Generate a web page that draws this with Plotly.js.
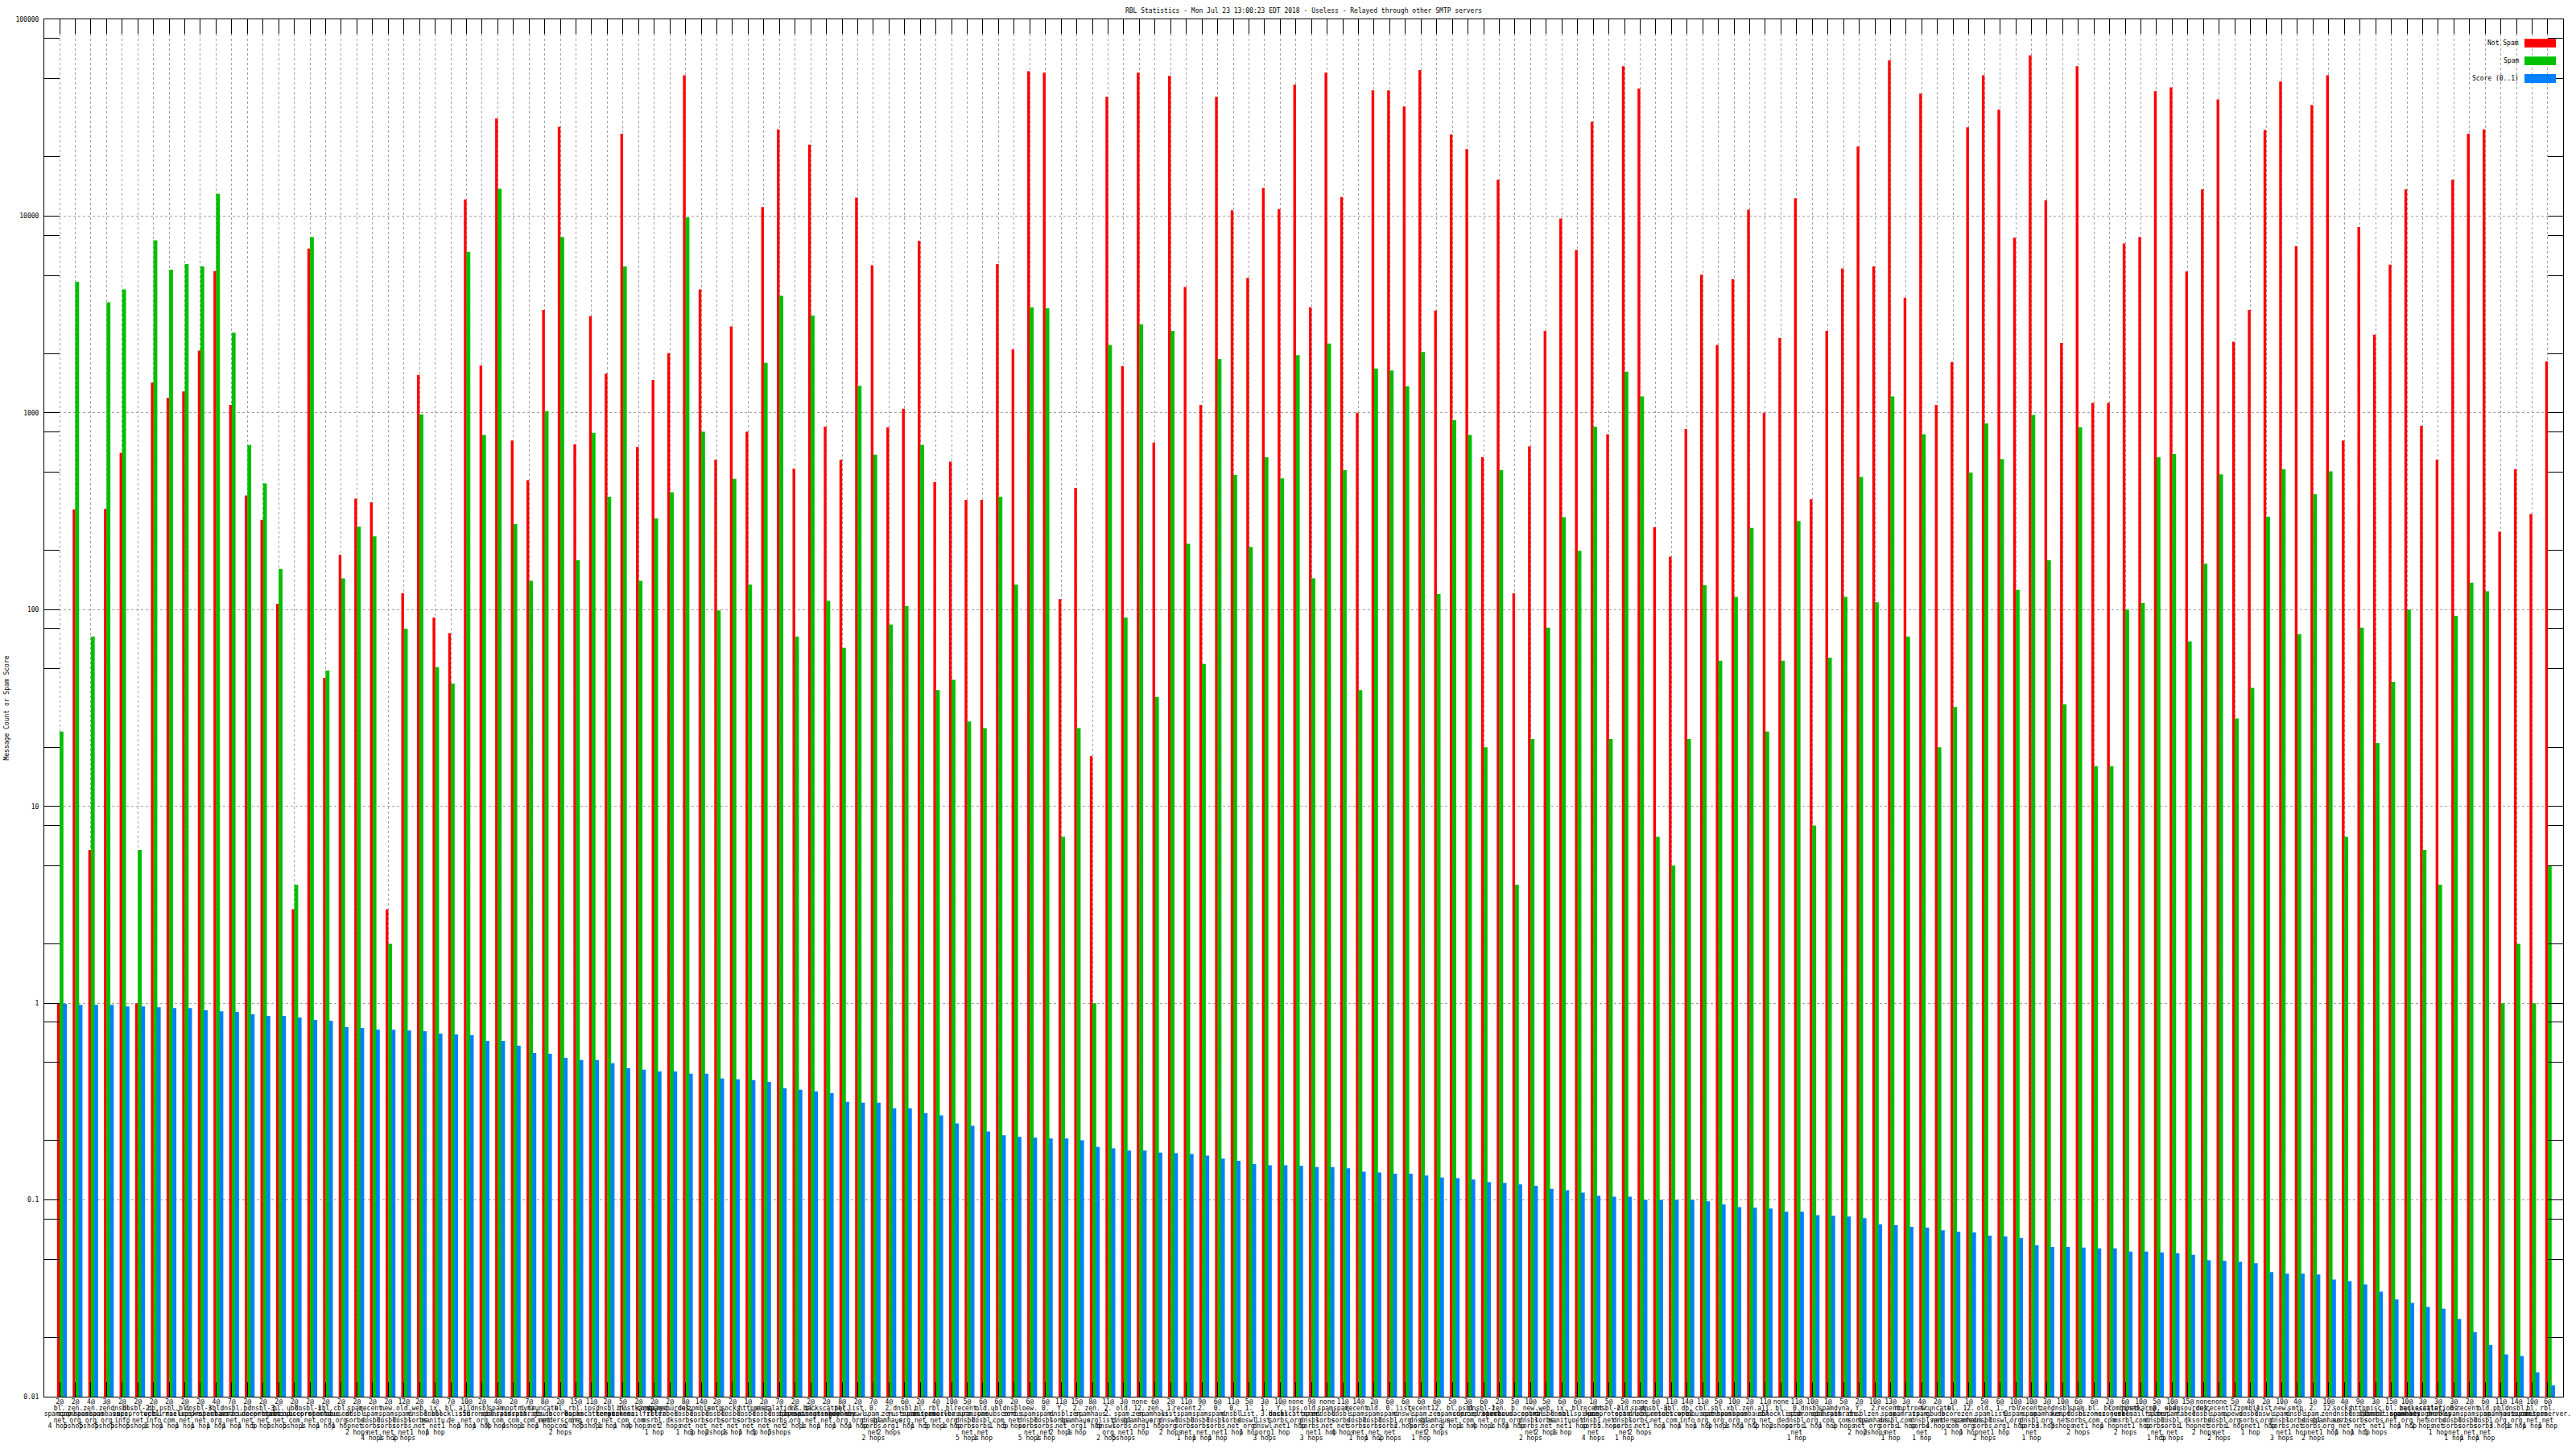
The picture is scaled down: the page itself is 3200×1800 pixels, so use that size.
<!DOCTYPE html>
<html><head><meta charset="utf-8">
<script src="https://cdn.plot.ly/plotly-3.0.1.min.js"></script>
<style>html,body{margin:0;padding:0;background:#fff}</style>
</head><body><div id="chart" style="width:3200px;height:1800px"></div>
<script>
// ---------------- data ----------------
const notSpam = [1,323,6,325,627,1,1426,1191,1285,2070,
5260,1097,380,286,107,3,6835,45,190,366,
351,3,121,1560,91,76,12140,1743,31340,723,
455,3337,28430,691,3098,1583,26180,671,1469,2010,
52010,4240,578,2749,802,11100,27600,520,23070,851,
578,12420,5625,845,1050,7475,445,565,361,361,
5710,2100,54430,53600,113,416,18,40370,1730,53600,
707,51640,4366,1097,40370,10690,4850,13900,10860,46540,
3438,53600,12510,1000,43510,43510,36100,55250,3313,26000,
21890,595,15300,121,676,2611,9710,6730,30190,778,
57800,44480,262,186,827,5030,2214,4777,10770,1000,
2404,12330,364,2611,5420,22550,5546,61800,3846,41900,
1097,1811,28230,52010,34770,7762,65600,12050,2265,57800,
1123,1123,7255,7818,43180,45140,5226,13680,39170,2298,
3337,27400,48290,7040,36640,52010,723,8810,2495,5670,
13680,859,578,15300,26180,27600,249,517,306,1824];

const spam = [24,4640,73,3650,4240,6,7530,5340,5710,5546,
12980,2553,686,438,161,4,7818,49,144,264,
236,2,80,982,51,42,6580,773,13780,272,
140,1019,7818,178,791,375,5546,140,291,395,
9860,802,99,462,134,1797,3935,73,3120,111,
64,1374,613,84,104,686,39,44,27,25,
375,134,3438,3400,7,25,1,2214,91,2812,
36,2611,216,53,1879,483,208,595,465,1965,
144,2249,512,39,1680,1643,1363,2040,120,918,
773,20,512,4,22,81,295,199,851,22,
1619,1210,7,5,22,133,55,116,260,24,
55,282,8,57,116,472,109,1210,73,778,
20,32,497,884,582,126,975,178,33,845,
16,16,100,108,595,618,69,171,487,28,
40,297,517,75,386,505,7,81,21,43,
100,6,4,93,137,124,1,2,1,5];

const score = [0.991,0.981,0.981,0.981,0.963,0.963,0.954,0.945,0.945,0.919,
0.910,0.902,0.877,0.861,0.861,0.845,0.821,0.814,0.755,0.748,
0.734,0.734,0.727,0.720,0.700,0.693,0.687,0.643,0.643,0.608,
0.559,0.553,0.528,0.514,0.514,0.495,0.467,0.459,0.450,0.450,
0.438,0.438,0.414,0.410,0.406,0.398,0.370,0.363,0.356,0.349,
0.315,0.312,0.312,0.292,0.292,0.276,0.269,0.245,0.238,0.223,
0.213,0.209,0.207,0.205,0.205,0.201,0.186,0.183,0.178,0.178,
0.174,0.173,0.171,0.168,0.162,0.158,0.152,0.150,0.150,0.149,
0.147,0.147,0.145,0.139,0.138,0.136,0.136,0.133,0.130,0.129,
0.127,0.123,0.122,0.120,0.118,0.114,0.112,0.109,0.105,0.104,
0.104,0.100,0.100,0.100,0.100,0.0984,0.0947,0.0920,0.0913,0.0904,
0.0871,0.0871,0.0837,0.0830,0.0823,0.0808,0.0750,0.0743,0.0730,0.0723,
0.0702,0.0689,0.0683,0.0658,0.0652,0.0640,0.0588,0.0577,0.0577,0.0572,
0.0567,0.0567,0.0546,0.0546,0.0541,0.0536,0.0526,0.0494,0.0490,0.0485,
0.0476,0.0430,0.0422,0.0422,0.0418,0.0394,0.0386,0.0372,0.0342,0.0312,
0.0300,0.0286,0.0280,0.0248,0.0213,0.0183,0.0164,0.0161,0.0133,0.0114];

const weights = ["2@","2@","4@","3@","2@","2@","2@","2@","2@","2@",
"4@","7@","2@","2@","2@","2@","2@","2@","2@","2@",
"2@","2@","12@","2@","4@","7@","10@","2@","4@","2@",
"7@","8@","2@","15@","11@","2@","5@","2@","2@","2@",
"8@","14@","2@","2@","1@","2@","7@","2@","2@","2@",
"8@","2@","7@","4@","6@","2@","4@","10@","5@","6@",
"6@","2@","6@","6@","11@","15@","8@","11@","3@","none",
"6@","2@","11@","9@","6@","11@","5@","3@","10@","none",
"9@","none","11@","14@","2@","6@","6@","6@","6@","5@",
"3@","6@","2@","5@","10@","5@","6@","6@","1@","5@",
"5@","none","6@","11@","14@","11@","5@","10@","2@","11@",
"none","11@","10@","1@","5@","2@","10@","13@","3@","4@",
"2@","1@","1@","5@","6@","10@","10@","3@","10@","6@",
"6@","2@","6@","10@","5@","10@","15@","none","none","5@",
"4@","2@","10@","4@","1@","10@","4@","9@","3@","15@",
"10@","3@","3@","3@","2@","6@","11@","14@","10@","6@"];

const rbls = ["bl.spamcop.net","zen.spamhaus.org","zen.spamhaus.org","zen.spamhaus.org","dnsbl.inps.info","dnsbl-2.uceprotect.net","db.wpbl.info","psbl.surriel.com","bl.mailspike.net","dnsbl-3.uceprotect.net",
"sbl.spamhaus.org","dnsbl.sorbs.net","b.barracudacentral.net","dnsbl-3.uceprotect.net","bl.spamcop.net","ubl.unsubscore.com","dnsbl-1.uceprotect.net","xbl.spamhaus.org","cbl.abuseat.org","spam.dnsbl.sorbs.net",
"recent.spam.dnsbl.sorbs.net","new.spam.dnsbl.sorbs.net","old.spam.dnsbl.sorbs.net","web.dnsbl.sorbs.net","ix.dnsbl.manitu.net","bl.blocklist.de","all.s5h.net","dnsbl.dronebl.org","spam.spamrats.com","noptr.spamrats.com",
"dyna.spamrats.com","truncate.gbudb.net","bl.score.senderscore.com","rbl.0spam.org","ips.backscatterer.org","dnsbl.kempt.net","bl.nszones.com","hostkarma.junkemailfilter.com","combined.rbl.msrbl.net","spamsources.fabel.dk",
"dul.dnsbl.sorbs.net","zombie.dnsbl.sorbs.net","smtp.dnsbl.sorbs.net","socks.dnsbl.sorbs.net","http.dnsbl.sorbs.net","misc.dnsbl.sorbs.net","escalations.dnsbl.sorbs.net","l2.apews.org","bl.spameatingmonkey.net","backscatter.spameatingmonkey.net",
"pbl.spamhaus.org","list.dnswl.org","0.spam.dnsbl.sorbs.net","2.zen.spamhaus.org","dnsbl.justspam.org","bl.suomispam.net","rbl.interserver.net","bl.emailbasura.org","recent.spam.dnsbl.sorbs.net","old.spam.dnsbl.sorbs.net",
"ubl.unsubscore.com","dnsbl.sorbs.net","new.spam.dnsbl.sorbs.net","0.spam.dnsbl.sorbs.net","Y.dnsbl.sorbs.net","2.zen.spamhaus.org","zen.spamhaus.org","2.2.list.dnswl.org","old.spam.dnsbl.sorbs.net","12.zen.spamhaus.org",
"zen.spamhaus.org","1.list.dnswl.org","recent.spam.dnsbl.sorbs.net","2.spam.dnsbl.sorbs.net","0.spam.dnsbl.sorbs.net","0.dnsbl.sorbs.net","1.list.dnswl.org","1.3.list.dnswl.org","Y.dnsbl.sorbs.net","ips.backscatterer.org",
"old.spam.dnsbl.sorbs.net","spam.dnsbl.sorbs.net","spam.dnsbl.sorbs.net","recent.spam.dnsbl.sorbs.net","old.spam.dnsbl.sorbs.net","0.spam.dnsbl.sorbs.net","list.dnswl.org","recent.spam.dnsbl.sorbs.net","12.zen.spamhaus.org","bl.spamcop.net",
"psbl.surriel.com","dnsbl-1.uceprotect.net","zen.spamhaus.org","b.barracudacentral.org","new.spam.dnsbl.sorbs.net","web.dnsbl.sorbs.net","ix.dnsbl.manitu.net","bl.mailspike.net","recent.spam.dnsbl.sorbs.net","dnsbl-2.uceprotect.net",
"old.spam.dnsbl.sorbs.net","spam.dnsbl.sorbs.net","dnsbl-3.uceprotect.net","ubl.unsubscore.com","db.wpbl.info","cbl.abuseat.org","sbl.spamhaus.org","xbl.spamhaus.org","zen.spamhaus.org","all.s5h.net",
"bl.blocklist.de","0.spam.dnsbl.sorbs.net","dnsbl.dronebl.org","spam.spamrats.com","dyna.spamrats.com","Y.dnsbl.sorbs.net","2.zen.spamhaus.org","recent.spam.dnsbl.sorbs.net","noptr.spamrats.com","new.spam.dnsbl.sorbs.net",
"truncate.gbudb.net","bl.score.senderscore.com","12.zen.spamhaus.org","old.spam.dnsbl.sorbs.net","1.list.dnswl.org","rbl.0spam.org","recent.spam.dnsbl.sorbs.net","zen.spamhaus.org","dnsbl.kempt.net","spam.dnsbl.sorbs.net",
"bl.nszones.com","bl.nszones.com","combined.rbl.msrbl.net","hostkarma.junkemailfilter.com","0.spam.dnsbl.sorbs.net","old.spam.dnsbl.sorbs.net","spamsources.fabel.dk","dul.dnsbl.sorbs.net","recent.spam.dnsbl.sorbs.net","l2.apews.org",
"zombie.dnsbl.sorbs.net","list.dnswl.org","new.spam.dnsbl.sorbs.net","smtp.dnsbl.sorbs.net","2.spam.dnsbl.sorbs.net","12.zen.spamhaus.org","socks.dnsbl.sorbs.net","http.dnsbl.sorbs.net","misc.dnsbl.sorbs.net","bl.spameatingmonkey.net",
"zen.spamhaus.org","backscatter.spameatingmonkey.net","escalations.dnsbl.sorbs.net","0.spam.dnsbl.sorbs.net","recent.spam.dnsbl.sorbs.net","old.spam.dnsbl.sorbs.net","pbl.spamhaus.org","dnsbl.justspam.org","bl.suomispam.net","rbl.interserver.net"];

const hops = [4,5,5,5,5,5,1,1,1,1, 1,1,1,5,5,5,1,1,1,2,
4,1,2,1,1,1,1,1,4,4, 1,1,2,2,5,1,1,4,1,2,
1,3,2,1,1,5,5,2,1,1, 1,1,2,2,1,1,5,1,5,1,
1,5,5,1,2,1,1,2,5,1, 1,2,1,1,1,1,1,3,1,1,
3,1,4,1,1,2,2,1,2,2, 1,4,1,1,2,2,1,1,4,5,
1,2,1,1,1,1,3,1,1,2, 2,1,1,1,3,2,2,1,1,1,
4,1,1,2,1,1,1,3,3,2, 1,1,2,1,1,5,1,2,2,1,
1,1,3,1,2,1,1,1,5,1, 1,2,1,1,1,1,3,1,1,1];

const yTickVals = [0.01,0.1,1,10,100,1000,10000,100000];
const yTickText = ["0.01","0.1","1","10","100","1000","10000","100000"];
const seriesNames = ["Not Spam","Spam","Score (0..1)"];
const seriesColors = ["#ff0000","#00c000","#0080ff"];
const titleText = "RBL Statistics - Mon Jul 23 13:00:23 EDT 2018 - Useless - Relayed through other SMTP servers";
const yTitle = "Message Count or Spam Score";

// ---------------- geometry ----------------
const W = 3200, H = 1800, ML = 55, MR = 16, MT = 24, MB = 0;
const plotBottomPx = 1735;
const plotW = W - ML - MR, paperH = H - MT - MB;
const pX = p => (p - ML) / plotW;
const pY = p => (H - MB - p) / paperH;
const firstTickPx = 74, stepPx = 19.44;
const xMin = (ML - firstTickPx) / stepPx;
const xMax = (W - MR - firstTickPx) / stepPx;
const u = px => px / stepPx;
const FONT = "DejaVu Sans Mono";

const pos = notSpam.map((_, i) => i);

const splitDomain = d => { const p = d.split("."); return p.map((s, i) => i < p.length - 1 ? s + "." : s); };
const labelLines = pos.map(i => [weights[i]].concat(splitDomain(rbls[i])).concat([hops[i] + (hops[i] === 1 ? " hop" : " hops")]));
const nRows = Math.max.apply(null, labelLines.map(l => l.length));

// ---------------- traces ----------------
const barDefs = [
  {y: notSpam, off: -3.2, w: 3.4},
  {y: spam, off: 0, w: 4.8},
  {y: score, off: 4.2, w: 4.8}
];
const traces = barDefs.map((b, i) => ({
  type: "bar", x: pos, y: b.y, name: seriesNames[i],
  offset: u(b.off), width: u(b.w),
  marker: {color: seriesColors[i], line: {width: 0}},
  showlegend: false, hoverinfo: "x+y"
}));

const rowGap = 7.5, rowStart = plotBottomPx;
const layout = {
  width: W, height: H,
  margin: {l: ML, r: MR, t: MT, b: MB, pad: 0},
  paper_bgcolor: "#ffffff", plot_bgcolor: "#ffffff",
  barmode: "overlay",
  showlegend: false,
  font: {family: FONT, size: 8, color: "#000"},
  title: {text: titleText, font: {family: FONT, size: 8, color: "#000"},
          x: 0.5, xref: "paper", xanchor: "center", y: 1 - 12.7 / H, yref: "container", yanchor: "middle"},
  xaxis: {
    range: [xMin, xMax], tickmode: "array", tickvals: pos, showticklabels: false,
    ticks: "inside", ticklen: 18, tickwidth: 1, tickcolor: "#000",
    showline: true, linecolor: "#000", linewidth: 1, mirror: "allticks",
    showgrid: true, gridcolor: "#a0a0a0", griddash: "dot", gridwidth: 1,
    zeroline: false, fixedrange: true
  },
  yaxis: {
    type: "log", range: [-2, 5], domain: [pY(plotBottomPx), 1],
    tickmode: "array", tickvals: yTickVals, ticktext: yTickText,
    tickfont: {family: FONT, size: 8, color: "#000"},
    ticks: "inside", ticklen: 19, tickwidth: 1, tickcolor: "#000",
    ticklabelstandoff: 4,
    minor: {tickmode: "array",
            tickvals: yTickVals.slice(0, -1).flatMap(v => [2 * v, 5 * v, 8 * v]),
            ticks: "inside", ticklen: 10, tickwidth: 1, tickcolor: "#000", showgrid: false},
    showline: true, linecolor: "#000", linewidth: 1, mirror: "allticks",
    showgrid: true, gridcolor: "#a0a0a0", griddash: "dot", gridwidth: 1,
    zeroline: false, fixedrange: true,
    title: {text: yTitle, font: {family: FONT, size: 8, color: "#000"}, standoff: 6}
  },
  annotations: [],
  shapes: []
};

for (let r = 0; r < nRows; r++) {
  const name = "xaxis" + (r + 2);
  layout[name] = {
    overlaying: "x", anchor: "free", position: pY(rowStart + rowGap * r),
    range: [xMin, xMax], tickmode: "array", tickvals: pos,
    ticktext: labelLines.map(l => l[r] || ""),
    tickfont: {family: FONT, size: 8, color: "#000"},
    showline: false, showgrid: false, zeroline: false, ticks: "", tickangle: 0,
    side: "bottom", fixedrange: true
  };
  traces.push({type: "scatter", mode: "markers", x: [], y: [], xaxis: "x" + (r + 2), yaxis: "y",
               showlegend: false, hoverinfo: "skip"});
}

// legend (text right-aligned, key to the right, as in the reference)
const legendRows = [53.7, 75.7, 97.5];
seriesNames.forEach((n, i) => {
  layout.annotations.push({text: n, xref: "paper", yref: "paper", x: pX(3131), y: pY(legendRows[i]),
    xanchor: "right", yanchor: "middle", showarrow: false, font: {family: FONT, size: 8, color: "#000"}});
  layout.shapes.push({type: "rect", xref: "paper", yref: "paper",
    x0: pX(3136), x1: pX(3175), y0: pY(legendRows[i] - 5.4), y1: pY(legendRows[i] + 5.4),
    fillcolor: seriesColors[i], line: {width: 0}});
});

Plotly.newPlot("chart", traces, layout, {staticPlot: true, displayModeBar: false});
</script>
</body></html>
